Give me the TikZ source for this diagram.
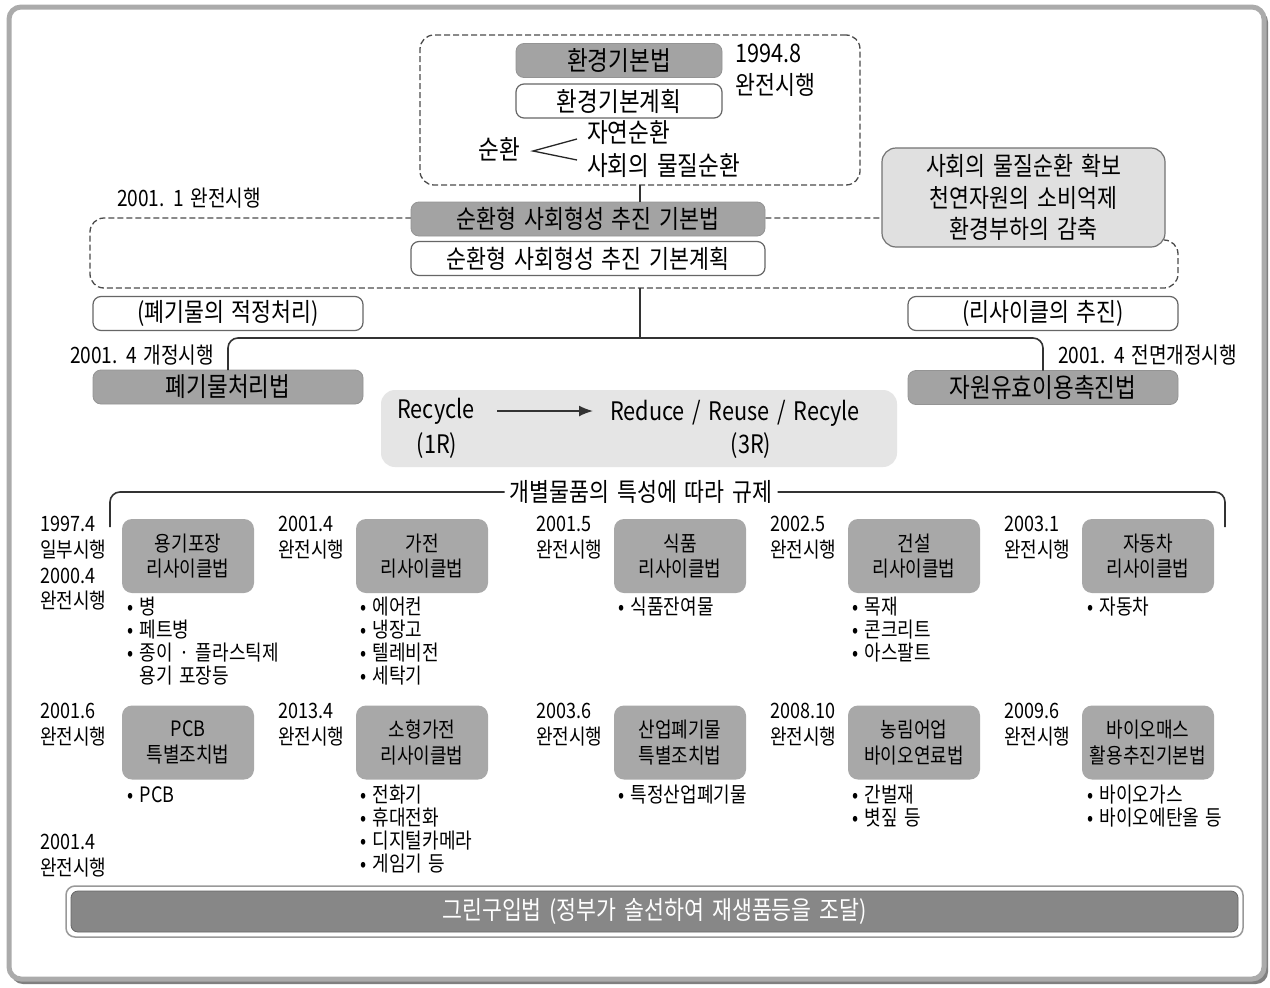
\documentclass[tikz,border=0pt]{standalone}
\usepackage{fontspec}
\setmainfont{Noto Sans CJK KR}[FakeStretch=0.85,WordSpace=1.6]
\usetikzlibrary{arrows.meta}
\newcommand{\fsA}{\fontsize{26.5}{31}\selectfont}
\newcommand{\fsB}{\fontsize{25.5}{31.5}\selectfont}
\newcommand{\fsC}{\fontsize{21.2}{25.7}\selectfont}
\newcommand{\fsD}{\fontsize{21.2}{23}\selectfont}
\newcommand{\fsE}{\fontsize{22.5}{26}\selectfont}
\tikzset{
  gbox/.style={fill=black!36, draw=black!42, line width=0.8, rounded corners=8, inner sep=0, outer sep=0, minimum height=34},
  wbox/.style={fill=white, draw=black!60, line width=1.2, rounded corners=8, inner sep=0, outer sep=0, minimum height=34},
  lawbox/.style={fill=black!34, rounded corners=10, minimum width=132, minimum height=74, inner sep=0, align=center, font=\fsC},
  note/.style={anchor=west, inner sep=0, align=left, font=\fsC},
  bul/.style={anchor=west, inner sep=0, align=left, font=\fsD},
  conn/.style={draw=black!80, line width=1.6},
  dashline/.style={draw=black!70, line width=1.3, dash pattern=on 6pt off 3pt},
  plain/.style={inner sep=0, outer sep=0}
}
\begin{document}
\begin{tikzpicture}[x=1pt,y=-1pt]
\useasboundingbox (0,0) rectangle (1270,988);
% outer frame
\fill[black!50, rounded corners=12] (11,10) rectangle (1268,984);
\draw[black!33, line width=5, fill=white, rounded corners=12] (9,7) rectangle (1264,979);

% top dashed frame
\node[plain, draw=black!70, line width=1.3, dash pattern=on 6pt off 3pt, rounded corners=14, minimum width=440, minimum height=150] (envframe) at (640,110) {};
\node[gbox, minimum width=206, font=\fsA] (envlaw) at (619,60.5) {환경기본법};
\node[wbox, minimum width=206, font=\fsA] (envplan) at (619,101) {환경기본계획};
\node[note, font=\fsB] (envdate) at (735,70) {1994.8\\완전시행};
\node[plain, font=\fsA] (cyc) at (499,149) {순환};
\node[plain, font=\fsA, anchor=west] (natcyc) at (587,133) {자연순환};
\node[plain, font=\fsA, anchor=west] (soccyc) at (587,166) {사회의 물질순환};
\coordinate (apex) at (533,151);
\draw[line width=1.3, black!85] ([shift={(-10,6)}]natcyc.west) -- (apex) -- ([shift={(-10,-6)}]soccyc.west);

% second dashed frame
\node[plain, minimum width=1088, minimum height=70] (cycframe) at (634,253) {};
\draw[dashline, rounded corners=14] (1165,240) -| (cycframe.south east) -| (cycframe.north west) -- (882,218);
\node[gbox, minimum width=354, font=\fsB] (basiclaw) at (588,219) {순환형 사회형성 추진 기본법};
\node[wbox, minimum width=354, font=\fsB] (basicplan) at (588,258.5) {순환형 사회형성 추진 기본계획};
\node[plain, font=\fsE, anchor=west] (basicdate) at (117,198) {2001. 1 완전시행};
\node[plain, fill=black!12, draw=black!55, line width=1.2, rounded corners=14, minimum width=283, minimum height=99, font=\fsB, align=center] (goal) at (1023.5,197.5) {사회의 물질순환 확보\\천연자원의 소비억제\\환경부하의 감축};
\draw[conn] (envframe.south) -- (envframe.south |- basiclaw.north);

% branches
\node[wbox, minimum width=270, font=\fsB] (wasteaim) at (228,313.5) {(폐기물의 적정처리)};
\node[wbox, minimum width=270, font=\fsB] (resaim) at (1043,313.5) {(리사이클의 추진)};
\node[plain, font=\fsE, anchor=east] (wastedate) at (214,355) {2001. 4 개정시행};
\node[plain, font=\fsE, anchor=west] (resdate) at (1058,355) {2001. 4 전면개정시행};
\node[gbox, minimum width=270, font=\fsA] (wastelaw) at (228,387) {폐기물처리법};
\node[gbox, minimum width=270, font=\fsA] (reslaw) at (1043,387.5) {자원유효이용촉진법};
\coordinate (hub) at (640,338);
\draw[conn] (cycframe.south -| hub) -- (hub);
\draw[conn, rounded corners=10] (wastelaw.north) |- (hub) -| (reslaw.north);

% recycle box
\node[plain, fill=black!10, rounded corners=14, minimum width=516, minimum height=77] (rbox) at (639,428.5) {};
\node[plain, font=\fsB] (r1) at (436,411) {Recycle};
\node[plain, font=\fsB] (r1n) at (437,446) {(1R)};
\node[plain, font=\fsB] (r3) at (735,413) {Reduce / Reuse / Recyle};
\node[plain, font=\fsB] (r3n) at (751,446) {(3R)};
\coordinate (ra) at (497,411);
\coordinate (rb) at (593,411);
\draw[conn, -{Latex[length=14,width=11]}] (ra) -- (rb);

% individual laws
\node[inner sep=5, font=\fsB] (indiv) at (641,492) {개별물품의 특성에 따라 규제};
\coordinate (bl) at (110,527);
\coordinate (br) at (1225,527);
\draw[conn, rounded corners=10] (indiv.west) -| (bl);
\draw[conn, rounded corners=10] (indiv.east) -| (br);

\node[lawbox] (pack) at (188,556) {용기포장\\리사이클법};
\node[lawbox] (appl) at (422,556) {가전\\리사이클법};
\node[lawbox] (food) at (680,556) {식품\\리사이클법};
\node[lawbox] (cons) at (914,556) {건설\\리사이클법};
\node[lawbox] (auto) at (1148,556) {자동차\\리사이클법};

\node[note] (d1) at (40,563.5) {1997.4\\일부시행\\2000.4\\완전시행};
\node[note] (d2) at (278,537.5) {2001.4\\완전시행};
\node[note] (d3) at (536,537.5) {2001.5\\완전시행};
\node[note] (d4) at (770,537.5) {2002.5\\완전시행};
\node[note] (d5) at (1004,537.5) {2003.1\\완전시행};

\node[bul] (b1) at (127,641.5) {•~병\\•~페트병\\•~종이 · 플라스틱제\\\hphantom{•}~용기 포장등};
\node[bul] (b2) at (360,641.5) {•~에어컨\\•~냉장고\\•~텔레비전\\•~세탁기};
\node[bul] (b3) at (618,607) {•~식품잔여물};
\node[bul] (b4) at (852,630) {•~목재\\•~콘크리트\\•~아스팔트};
\node[bul] (b5) at (1087,607) {•~자동차};

\node[lawbox] (pcb) at (188,742.5) {PCB\\특별조치법};
\node[lawbox] (small) at (422,742.5) {소형가전\\리사이클법};
\node[lawbox] (indw) at (680,742.5) {산업폐기물\\특별조치법};
\node[lawbox] (agri) at (914,742.5) {농림어업\\바이오연료법};
\node[lawbox] (bio) at (1148,742.5) {바이오매스\\활용추진기본법};

\node[note] (e1) at (40,724.5) {2001.6\\완전시행};
\node[note] (e2) at (278,724.5) {2013.4\\완전시행};
\node[note] (e3) at (536,724.5) {2003.6\\완전시행};
\node[note] (e4) at (770,724.5) {2008.10\\완전시행};
\node[note] (e5) at (1004,724.5) {2009.6\\완전시행};
\node[note] (e6) at (40,855.5) {2001.4\\완전시행};

\node[bul] (c1) at (127,795) {•~PCB};
\node[bul] (c2) at (360,829) {•~전화기\\•~휴대전화\\•~디지털카메라\\•~게임기 등};
\node[bul] (c3) at (618,795) {•~특정산업폐기물};
\node[bul] (c4) at (852,806.5) {•~간벌재\\•~볏짚 등};
\node[bul] (c5) at (1087,806.5) {•~바이오가스\\•~바이오에탄올 등};

% green purchase bar
\node[plain, fill=white, draw=black!40, line width=1.5, rounded corners=9, minimum width=1177, minimum height=51] (greenouter) at (654.5,911.5) {};
\node[plain, fill=black!47, draw=black!60, line width=0.8, rounded corners=7, minimum width=1167, minimum height=41, text=white, font=\fsB] (green) at (654.5,911.5) {그린구입법 (정부가 솔선하여 재생품등을 조달)};
\end{tikzpicture}
\end{document}
